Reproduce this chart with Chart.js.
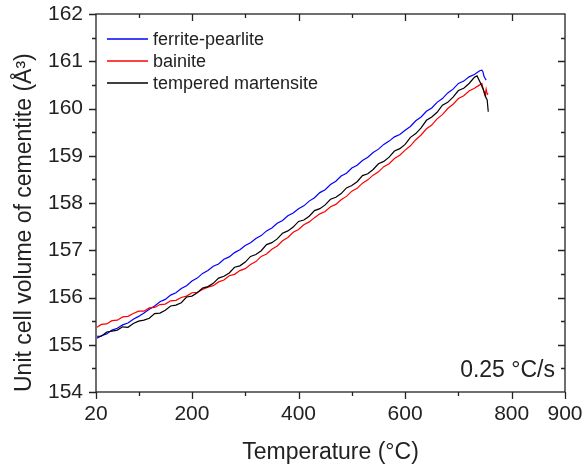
<!DOCTYPE html>
<html><head><meta charset="utf-8">
<script src="https://cdn.jsdelivr.net/npm/chart.js@4.4.1/dist/chart.umd.min.js"></script>
<style>html,body{margin:0;padding:0;background:#fff}</style>
</head><body>
<canvas id="c" width="585" height="471"></canvas>
<script>
const seriesNames = ['ferrite-pearlite', 'bainite', 'tempered martensite'];
const temps = [22,30,40,50,60,70,80,90,100,110,
  120,130,140,150,160,170,180,190,200,210,
  220,230,240,250,260,270,280,290,300,310,
  320,330,340,350,360,370,380,390,400,410,
  420,430,440,450,460,470,480,490,500,510,
  520,530,540,550,560,570,580,590,600,610,
  620,630,640,650,660,670,680,690,700,710,
  720,730];
const ferritePearlite = [155.14,155.19,155.23,155.31,155.35,155.42,155.46,155.54,155.60,155.67,
  155.75,155.82,155.91,155.96,156.05,156.10,156.19,156.25,156.35,156.41,
  156.51,156.57,156.66,156.71,156.81,156.86,156.95,157.01,157.10,157.16,
  157.25,157.31,157.41,157.47,157.57,157.63,157.73,157.79,157.88,157.94,
  158.04,158.11,158.22,158.28,158.39,158.46,158.57,158.63,158.74,158.80,
  158.90,158.97,159.07,159.14,159.24,159.31,159.40,159.45,159.54,159.62,
  159.74,159.82,159.94,160.01,160.13,160.21,160.33,160.41,160.53,160.58,
  160.67,160.72];
const ferritePearliteTailT = [740,744,746,748,750,752];
const ferritePearliteTailV = [160.80,160.81,160.78,160.68,160.64,160.60];

const bainite = [155.37,155.43,155.44,155.51,155.52,155.59,155.60,155.66,155.71,155.71,
  155.78,155.79,155.85,155.86,155.93,155.94,156.00,156.03,156.10,156.11,
  156.17,156.22,156.25,156.33,156.37,156.46,156.49,156.57,156.61,156.70,
  156.76,156.87,156.92,157.02,157.09,157.20,157.27,157.38,157.44,157.54,
  157.60,157.69,157.77,157.82,157.92,157.97,158.07,158.14,158.25,158.31,
  158.42,158.49,158.59,158.66,158.77,158.83,158.94,159.01,159.12,159.21,
  159.34,159.44,159.57,159.65,159.78,159.87,160.00,160.09,160.21,160.27,
  160.37,160.43];
const bainiteTailT = [740,744,748,750,752,754,756];
const bainiteTailV = [160.50,160.53,160.35,160.27,160.41,160.30,160.32];

const temperedMartensite = [155.18,155.18,155.27,155.29,155.31,155.38,155.37,155.45,155.50,155.52,
  155.56,155.66,155.67,155.73,155.82,155.84,155.89,156.01,156.03,156.10,
  156.20,156.23,156.30,156.41,156.45,156.52,156.64,156.67,156.75,156.87,
  156.91,156.99,157.12,157.16,157.24,157.36,157.41,157.49,157.61,157.64,
  157.72,157.84,157.88,157.96,158.08,158.12,158.20,158.32,158.37,158.45,
  158.58,158.62,158.71,158.83,158.88,158.97,159.10,159.15,159.24,159.39,
  159.47,159.59,159.75,159.82,159.92,160.07,160.13,160.24,160.38,160.43,
  160.53,160.66];
const temperedMartensiteTailT = [735,741,747,752,754,756];
const temperedMartensiteTailV = [160.69,160.55,160.39,160.22,160.18,159.93];

const xTickLabels = [20,200,400,600,800,900];
const xMinorTicks = [100,300,500,700];
const yMin = 154, yMax = 162;
const rateLabel = '0.25 °C/s';
const colors = ['#0000ff', '#ff0000', '#000000'];

function pts(t, v, tt, tv) {
  return t.map((x, i) => ({x, y: v[i]})).concat(tt.map((x, i) => ({x, y: tv[i]})));
}

const FONT = "'Liberation Sans', Arial, sans-serif";

const decor = {
  id: 'decor',
  afterDraw(chart) {
    const {ctx, chartArea: a, scales: {x, y}} = chart;
    ctx.save();
    ctx.strokeStyle = '#222';
    ctx.lineWidth = 1.3;
    ctx.strokeRect(a.left, a.top, a.right - a.left, a.bottom - a.top);
    ctx.beginPath();
    xTickLabels.forEach(v => {
      const p = Math.round(x.getPixelForValue(v)) + 0.5;
      ctx.moveTo(p, a.bottom); ctx.lineTo(p, a.bottom + 7);
      if (v > 20 && v < 900) { ctx.moveTo(p, a.top); ctx.lineTo(p, a.top + 7); }
    });
    xMinorTicks.forEach(v => {
      const p = Math.round(x.getPixelForValue(v)) + 0.5;
      ctx.moveTo(p, a.bottom); ctx.lineTo(p, a.bottom + 4);
      ctx.moveTo(p, a.top); ctx.lineTo(p, a.top + 4);
    });
    for (let v = yMin; v <= yMax; v += 0.5) {
      const p = Math.round(y.getPixelForValue(v)) + 0.5;
      const len = (v % 1 === 0) ? 7 : 4;
      ctx.moveTo(a.left, p); ctx.lineTo(a.left - len, p);
      if (v > yMin && v < yMax) { ctx.moveTo(a.right, p); ctx.lineTo(a.right - len, p); }
    }
    ctx.stroke();
    // legend
    ctx.font = '18px ' + FONT;
    ctx.textBaseline = 'middle';
    ctx.textAlign = 'left';
    seriesNames.forEach((n, i) => {
      const yy = a.top + 25 + i * 22;
      ctx.strokeStyle = colors[i];
      ctx.lineWidth = 1.3;
      ctx.beginPath(); ctx.moveTo(a.left + 11, yy); ctx.lineTo(a.left + 52, yy); ctx.stroke();
      ctx.fillStyle = '#222';
      ctx.fillText(n, a.left + 57, yy + 1);
    });
    ctx.font = '23px ' + FONT;
    ctx.textAlign = 'right';
    ctx.textBaseline = 'alphabetic';
    ctx.fillText(rateLabel, a.right - 10, a.bottom - 15);
    ctx.restore();
  }
};

new Chart(document.getElementById('c'), {
  type: 'line',
  data: {
    datasets: [
      {label: seriesNames[0], data: pts(temps, ferritePearlite, ferritePearliteTailT, ferritePearliteTailV), borderColor: colors[0], borderWidth: 1.2, pointRadius: 0, tension: 0, order: 2},
      {label: seriesNames[1], data: pts(temps, bainite, bainiteTailT, bainiteTailV), borderColor: colors[1], borderWidth: 1.2, pointRadius: 0, tension: 0, order: 1},
      {label: seriesNames[2], data: pts(temps, temperedMartensite, temperedMartensiteTailT, temperedMartensiteTailV), borderColor: colors[2], borderWidth: 1.2, pointRadius: 0, tension: 0, order: 0}
    ]
  },
  options: {
    responsive: false,
    animation: false,
    layout: {padding: {top: 14, right: 20, left: 0, bottom: 0}},
    plugins: {legend: {display: false}, tooltip: {enabled: false}},
    scales: {
      x: {
        type: 'linear', min: 20, max: 900,
        afterBuildTicks: s => { s.ticks = xTickLabels.map(v => ({value: v})); },
        afterFit: s => { s.height = 79; s.paddingLeft = 0; s.paddingRight = 0; },
        grid: {display: false, drawTicks: false},
        border: {display: false},
        ticks: {padding: 10, color: '#222', font: {family: FONT, size: 21}, maxRotation: 0, autoSkip: false},
        title: {display: true, text: 'Temperature (°C)', color: '#222', font: {family: FONT, size: 23}, padding: {top: 0, bottom: 5}}
      },
      y: {
        min: yMin, max: yMax,
        ticks: {stepSize: 1, padding: 13, color: '#222', font: {family: FONT, size: 21}},
        afterFit: s => { s.width = 96; s.paddingTop = 0; s.paddingBottom = 0; },
        grid: {display: false, drawTicks: false},
        border: {display: false},
        title: {display: true, align: 'start', text: 'Unit cell volume of cementite (Å³)', color: '#222', font: {family: FONT, size: 23}, padding: {top: 11, bottom: 0}}
      }
    }
  },
  plugins: [decor]
});
</script>
</body></html>
